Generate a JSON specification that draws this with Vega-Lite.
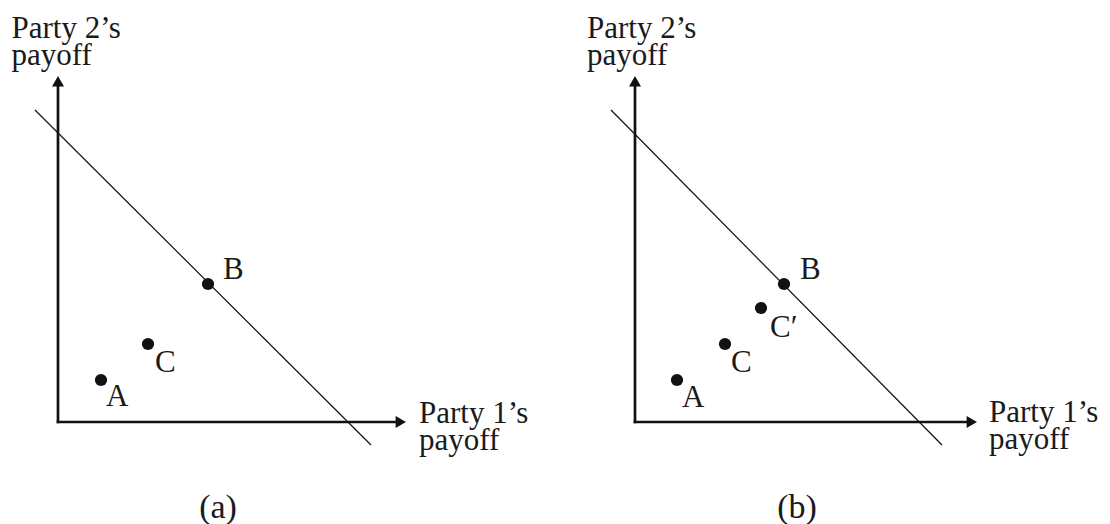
{
  "$schema": "https://vega.github.io/schema/vega-lite/v6.json",
  "padding": 0,
  "background": "white",
  "config": {"view": {"stroke": null}, "font": "Liberation Serif"},
  "data": {
    "values": [
      {"panel": "a", "kind": "axis", "x": 0, "y": 0, "x2": 0, "y2": 33.6},
      {"panel": "a", "kind": "axis", "x": 0, "y": 0, "x2": 33.8, "y2": 0},
      {"panel": "a", "kind": "yhead", "x": 0, "y": 34.08},
      {"panel": "a", "kind": "xhead", "x": 34.28, "y": 0},
      {"panel": "a", "kind": "budget", "x": -2.3, "y": 31.2, "x2": 31.3, "y2": -2.3},
      {"panel": "a", "kind": "point", "x": 15.0, "y": 13.8, "label": "B"},
      {"panel": "a", "kind": "point", "x": 9.0, "y": 7.8, "label": "C"},
      {"panel": "a", "kind": "point", "x": 4.3, "y": 4.2, "label": "A"},
      {"panel": "a", "kind": "text", "x": 16.5, "y": 14.3, "label": "B"},
      {"panel": "a", "kind": "text", "x": 9.7, "y": 5.0, "label": "C"},
      {"panel": "a", "kind": "text", "x": 4.8, "y": 1.6, "label": "A"},
      {"panel": "a", "kind": "text", "x": -4.65, "y": 38.37, "label": ["Party 2’s", "payoff"]},
      {"panel": "a", "kind": "text", "x": 36.1, "y": -0.1, "label": ["Party 1’s", "payoff"]},
      {"panel": "a", "kind": "tag", "x": 16.0, "y": -9.6, "label": "(a)"},
      {"panel": "b", "kind": "axis", "x": 0, "y": 0, "x2": 0, "y2": 33.6},
      {"panel": "b", "kind": "axis", "x": 0, "y": 0, "x2": 33.2, "y2": 0},
      {"panel": "b", "kind": "yhead", "x": 0, "y": 34.08},
      {"panel": "b", "kind": "xhead", "x": 33.68, "y": 0},
      {"panel": "b", "kind": "budget", "x": -2.4, "y": 31.2, "x2": 30.7, "y2": -2.3},
      {"panel": "b", "kind": "point", "x": 14.9, "y": 13.8, "label": "B"},
      {"panel": "b", "kind": "point", "x": 12.6, "y": 11.4, "label": "C′"},
      {"panel": "b", "kind": "point", "x": 9.0, "y": 7.8, "label": "C"},
      {"panel": "b", "kind": "point", "x": 4.2, "y": 4.2, "label": "A"},
      {"panel": "b", "kind": "text", "x": 16.5, "y": 14.3, "label": "B"},
      {"panel": "b", "kind": "text", "x": 13.5, "y": 8.5, "label": "C′"},
      {"panel": "b", "kind": "text", "x": 9.6, "y": 5.0, "label": "C"},
      {"panel": "b", "kind": "text", "x": 4.7, "y": 1.5, "label": "A"},
      {"panel": "b", "kind": "text", "x": -4.8, "y": 38.37, "label": ["Party 2’s", "payoff"]},
      {"panel": "b", "kind": "text", "x": 35.4, "y": 0.0, "label": ["Party 1’s", "payoff"]},
      {"panel": "b", "kind": "tag", "x": 16.2, "y": -9.6, "label": "(b)"}
    ]
  },
  "facet": {"column": {"field": "panel", "type": "nominal", "header": null}},
  "spacing": 44,
  "spec": {
    "width": 533,
    "height": 524,
    "encoding": {
      "x": {"field": "x", "type": "quantitative", "scale": {"domain": [-5.8, 47.5], "nice": false, "zero": false}, "axis": null},
      "y": {"field": "y", "type": "quantitative", "scale": {"domain": [-10.2, 42.2], "nice": false, "zero": false}, "axis": null}
    },
    "layer": [
      {
        "transform": [{"filter": "datum.kind === 'budget'"}],
        "mark": {"type": "rule", "color": "#111111", "strokeWidth": 1.2},
        "encoding": {"x2": {"field": "x2"}, "y2": {"field": "y2"}}
      },
      {
        "transform": [{"filter": "datum.kind === 'axis'"}],
        "mark": {"type": "rule", "color": "#111111", "strokeWidth": 2.7, "strokeCap": "square"},
        "encoding": {"x2": {"field": "x2"}, "y2": {"field": "y2"}}
      },
      {
        "transform": [{"filter": "datum.kind === 'yhead'"}],
        "mark": {"type": "point", "shape": "triangle-up", "filled": true, "size": 144, "color": "#111111", "opacity": 1}
      },
      {
        "transform": [{"filter": "datum.kind === 'xhead'"}],
        "mark": {"type": "point", "shape": "triangle-right", "filled": true, "size": 144, "color": "#111111", "opacity": 1}
      },
      {
        "transform": [{"filter": "datum.kind === 'point'"}],
        "mark": {"type": "circle", "size": 150, "color": "#111111", "opacity": 1}
      },
      {
        "transform": [{"filter": "datum.kind === 'text'"}],
        "mark": {"type": "text", "fontSize": 31, "lineHeight": 27, "align": "left", "baseline": "alphabetic", "color": "#1a1a1a"},
        "encoding": {"text": {"field": "label"}}
      },
      {
        "transform": [{"filter": "datum.kind === 'tag'"}],
        "mark": {"type": "text", "fontSize": 34, "align": "center", "baseline": "alphabetic", "color": "#1a1a1a"},
        "encoding": {"text": {"field": "label"}}
      }
    ]
  }
}
